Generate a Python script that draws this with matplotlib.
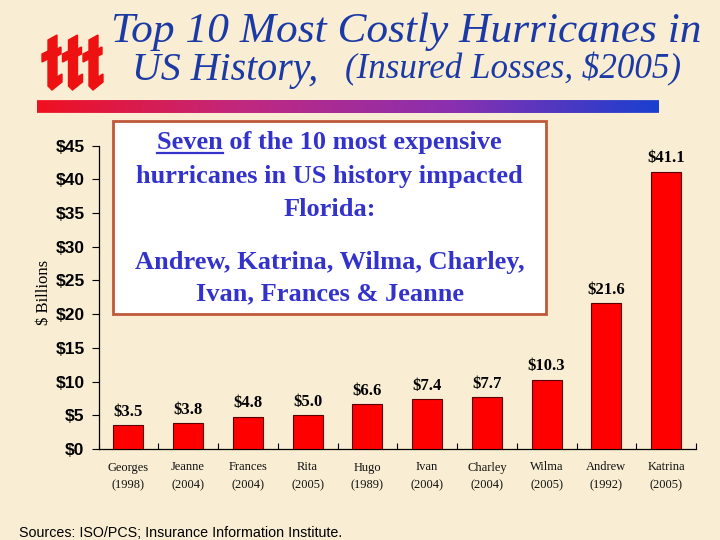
import numpy as np
import matplotlib
matplotlib.use("Agg")
import matplotlib.pyplot as plt
from matplotlib.patches import Polygon, FancyBboxPatch, Rectangle
from matplotlib.colors import LinearSegmentedColormap

# данные с картинки
storms = ["Georges", "Jeanne", "Frances", "Rita", "Hugo",
          "Ivan", "Charley", "Wilma", "Andrew", "Katrina"]
years = ["1998", "2004", "2004", "2005", "1989",
         "2004", "2004", "2005", "1992", "2005"]
losses = [3.5, 3.8, 4.8, 5.0, 6.6, 7.4, 7.7, 10.3, 21.6, 41.1]
yticks = [0, 5, 10, 15, 20, 25, 30, 35, 40, 45]

bg = "#f9eed3"
title_blue = "#1c3aa6"
box_blue = "#3333cc"

W, H = 720, 540


def px(x, y):  # пиксели картинки -> доли фигуры
    return x / W, 1 - y / H


fig = plt.figure(figsize=(7.2, 5.4), dpi=100, facecolor=bg)
r = fig.canvas.get_renderer()


def fit(t, width):  # подогнать размер шрифта под ширину в пикселях
    w = t.get_window_extent(r).width
    t.set_fontsize(t.get_fontsize() * width / w)


ax = fig.add_axes([98.5 / W, 1 - 449 / H, (696 - 98.5) / W, (449 - 145.5) / H])
ax.set_facecolor(bg)
ax.patch.set_alpha(0)

xpos = np.arange(len(storms))
ax.bar(xpos, losses, width=0.5, color="#ff0000", edgecolor="#5a0000", linewidth=0.8, zorder=3)
for x, v in zip(xpos, losses):
    ax.annotate(f"${v:.1f}", (x, v), xytext=(0, 4), textcoords="offset points",
                ha="center", va="bottom", fontsize=12, fontweight="bold",
                family="Liberation Serif", color="black")

ax.set_xlim(-0.5, len(storms) - 0.5)
ax.set_ylim(0, 45)
ax.set_yticks(yticks)
ax.set_yticklabels([f"${t}" for t in yticks], fontsize=12.5, fontweight="bold",
                   family="Liberation Sans")
ax.set_xticks(xpos)
ax.set_xticklabels([f"{s}\n({y})" for s, y in zip(storms, years)], fontsize=9,
                   family="Liberation Serif", color="#111111", linespacing=1.6)
ax.set_xticks(np.arange(len(storms) + 1) - 0.5, minor=True)
ax.tick_params(axis="x", which="major", length=0, pad=9)
ax.tick_params(axis="x", which="minor", direction="in", length=4, width=0.8)
ax.tick_params(axis="y", direction="out", length=5, width=0.8, pad=5)
for s in ["top", "right"]:
    ax.spines[s].set_visible(False)
for s in ["left", "bottom"]:
    ax.spines[s].set_linewidth(0.9)
ax.set_ylabel("$ Billions", family="Liberation Serif", fontsize=12)
ax.yaxis.set_label_coords(-0.077, 0.515)

# заголовок
t1 = fig.text(*px(111, 42), "Top 10 Most Costly Hurricanes in", ha="left", va="baseline",
              family="Liberation Serif", style="italic", fontsize=30, color=title_blue)
t2 = fig.text(*px(132, 80), "US History,", ha="left", va="baseline",
              family="Liberation Serif", style="italic", fontsize=30, color=title_blue)
t3 = fig.text(*px(345, 78), "(Insured Losses, $2005)", ha="left", va="baseline",
              family="Liberation Serif", style="italic", fontsize=24, color=title_blue)
fit(t1, 590)
fit(t2, 186)
fit(t3, 338)

# логотип iii
for i in range(3):
    x0 = 41 + i * 20.5
    pts = [(x0 + 7, 40), (x0 + 16, 35), (x0 + 16, 49), (x0 + 20, 47), (x0 + 20, 54),
           (x0 + 16, 56), (x0 + 16, 77), (x0 + 21, 74), (x0 + 21, 82), (x0 + 11, 90),
           (x0 + 7, 86), (x0 + 7, 59), (x0 + 1, 62), (x0 + 1, 54), (x0 + 7, 51)]
    fig.patches.append(Polygon([px(a, b) for a, b in pts], closed=True,
                               transform=fig.transFigure, color="#ee1111", zorder=5))

# градиентная полоса
gax = fig.add_axes([37 / W, 1 - 113 / H, (659 - 37) / W, 13 / H])
gax.axis("off")
cmap = LinearSegmentedColormap.from_list("bar", ["#f01020", "#c02880", "#8a30b0", "#1a3fd0"])
grad = np.linspace(0, 1, 256).reshape(1, -1)
im = gax.imshow(grad, aspect="auto", cmap=cmap, extent=[0, 1, 0, 1])
clip = FancyBboxPatch((0, 0), 1, 1, boxstyle="round,pad=0,rounding_size=0.5",
                      mutation_aspect=1 / 47.8, transform=gax.transData, facecolor="none", edgecolor="none")
gax.add_patch(clip)
im.set_clip_path(clip)
gax.set_xlim(0, 1)
gax.set_ylim(0, 1)

# текстовая вставка
x0, y0 = px(113, 314)
x1, y1 = px(546, 121)
fig.patches.append(Rectangle((x0, y0), x1 - x0, y1 - y0, transform=fig.transFigure,
                             facecolor="white", edgecolor="#c0583a", linewidth=2, zorder=6))
box_lines = [("Seven of the 10 most expensive", 143),
             ("hurricanes in US history impacted", 177),
             ("Florida:", 210),
             ("Andrew, Katrina, Wilma, Charley,", 262),
             ("Ivan, Frances & Jeanne", 294)]
tkw = dict(family="Liberation Serif", fontweight="bold", fontsize=19, color=box_blue, zorder=7)
texts = []
for s, yy in box_lines:
    texts.append(fig.text(*px(329.5, yy), s, ha="center", va="center", **tkw))

# подчеркнуть "Seven"
bb = texts[0].get_window_extent(r)
tmp = fig.text(0, 0, "Seven", **tkw)
wb = tmp.get_window_extent(r)
tmp.remove()
uy = bb.y0 + 1.5
fig.add_artist(plt.Line2D([bb.x0 / W, (bb.x0 + wb.width) / W], [uy / H, uy / H],
                          transform=fig.transFigure, color=box_blue, linewidth=1.6, zorder=8))

fig.text(*px(19, 533), "Sources: ISO/PCS; Insurance Information Institute.", ha="left",
         va="center", family="Liberation Sans", fontsize=10.3, color="black")

fig.savefig("out.png", dpi=100, facecolor=bg)
